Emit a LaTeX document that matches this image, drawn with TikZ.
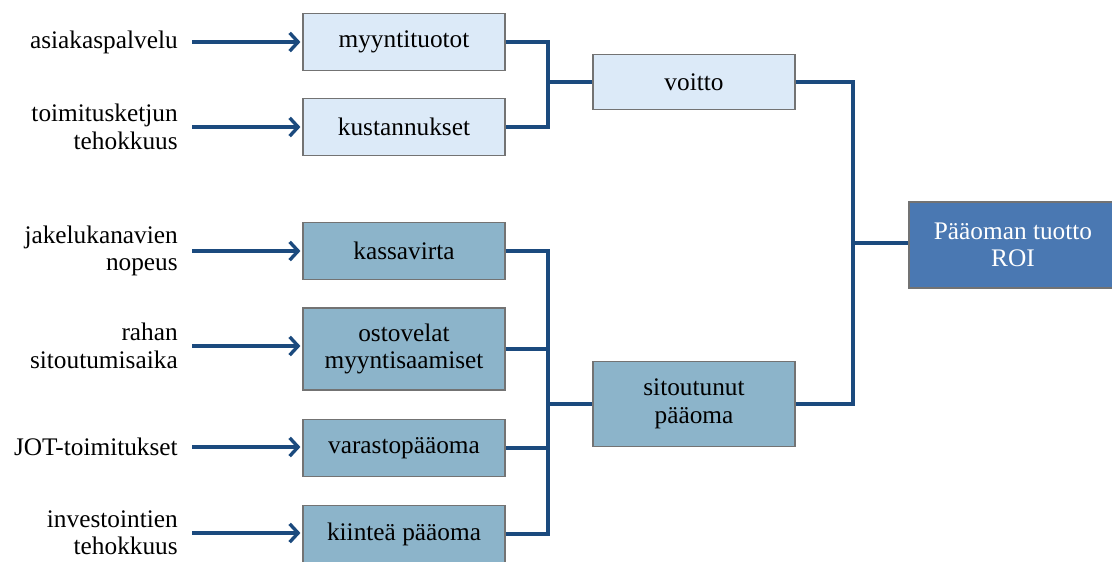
\documentclass[tikz,border=0pt]{standalone}
\usepackage{fontspec}
\setmainfont{Liberation Serif}
\usetikzlibrary{arrows.meta}
\definecolor{linkblue}{HTML}{1B4A7E}
\definecolor{palebox}{HTML}{DCEAF8}
\definecolor{greybox}{HTML}{8CB4CA}
\definecolor{roiblue}{HTML}{4A78B2}
\begin{document}
\begin{tikzpicture}[x=0.025cm,y=-0.025cm,
  box/.style={draw=black!55,line width=0.8pt,minimum width=5.05cm,minimum height=1.43cm,align=center,font=\fontsize{18}{19.5}\selectfont},
  lightbox/.style={box,fill=palebox},
  darkbox/.style={box,fill=greybox},
  lbl/.style={anchor=east,align=right,inner xsep=0pt,font=\fontsize{18}{19.5}\selectfont},
  feed/.style={draw=linkblue,line width=2.4pt,-{Straight Barb[length=6pt,width=13pt,line width=2.4pt]},shorten <=0.35cm,shorten >=0.05cm},
  conn/.style={draw=linkblue,line width=2.4pt}]
\useasboundingbox (0,0) rectangle (1112,561);
% tekijat
\node[lbl] (l1) at (178,42) {asiakaspalvelu};
\node[lbl] (l2) at (178,127) {toimitusketjun\\tehokkuus};
\node[lbl] (l3) at (178,251) {jakelukanavien\\nopeus};
\node[lbl] (l4) at (178,346) {rahan\\sitoutumisaika};
\node[lbl] (l5) at (178,447) {JOT-toimitukset};
\node[lbl] (l6) at (178,533) {investointien\\tehokkuus};
% ensimmainen sarake
\node[lightbox] (b1) at (404,42) {myyntituotot};
\node[lightbox] (b2) at (404,127) {kustannukset};
\node[darkbox] (b3) at (404,251) {kassavirta};
\node[darkbox,minimum height=2.05cm] (b4) at (404,349) {ostovelat\\myyntisaamiset};
\node[darkbox] (b5) at (404,448) {varastopääoma};
\node[darkbox] (b6) at (404,534) {kiinteä pääoma};
% toinen sarake
\node[lightbox,minimum height=1.38cm] (voitto) at (694,82) {voitto};
\node[darkbox,minimum height=2.12cm] (sit) at (694,404) {sitoutunut\\pääoma};
\node[box,fill=roiblue,text=white,minimum width=5.2cm,minimum height=2.15cm] (roi) at (1013,245) {Pääoman tuotto\\ROI};
\foreach \i in {1,...,6}{\draw[feed] (l\i.east) -- (l\i.east -| b\i.west);}
% liitokset
\coordinate (j1) at (548,82);
\coordinate (j2) at (548,404);
\coordinate (j3) at (853,243);
\draw[conn] (b1.east) -| (j1) |- (b2.east);
\draw[conn] (j1) -- (voitto.west);
\draw[conn] (b3.east) -| (j2) |- (b6.east);
\foreach \i in {4,5}{\draw[conn] (b\i.east) -- (b\i.east -| j2);}
\draw[conn] (j2) -- (sit.west);
\draw[conn] (voitto.east) -| (j3) |- (sit.east);
\draw[conn] (j3) -- (j3 -| roi.west);
\end{tikzpicture}
\end{document}
